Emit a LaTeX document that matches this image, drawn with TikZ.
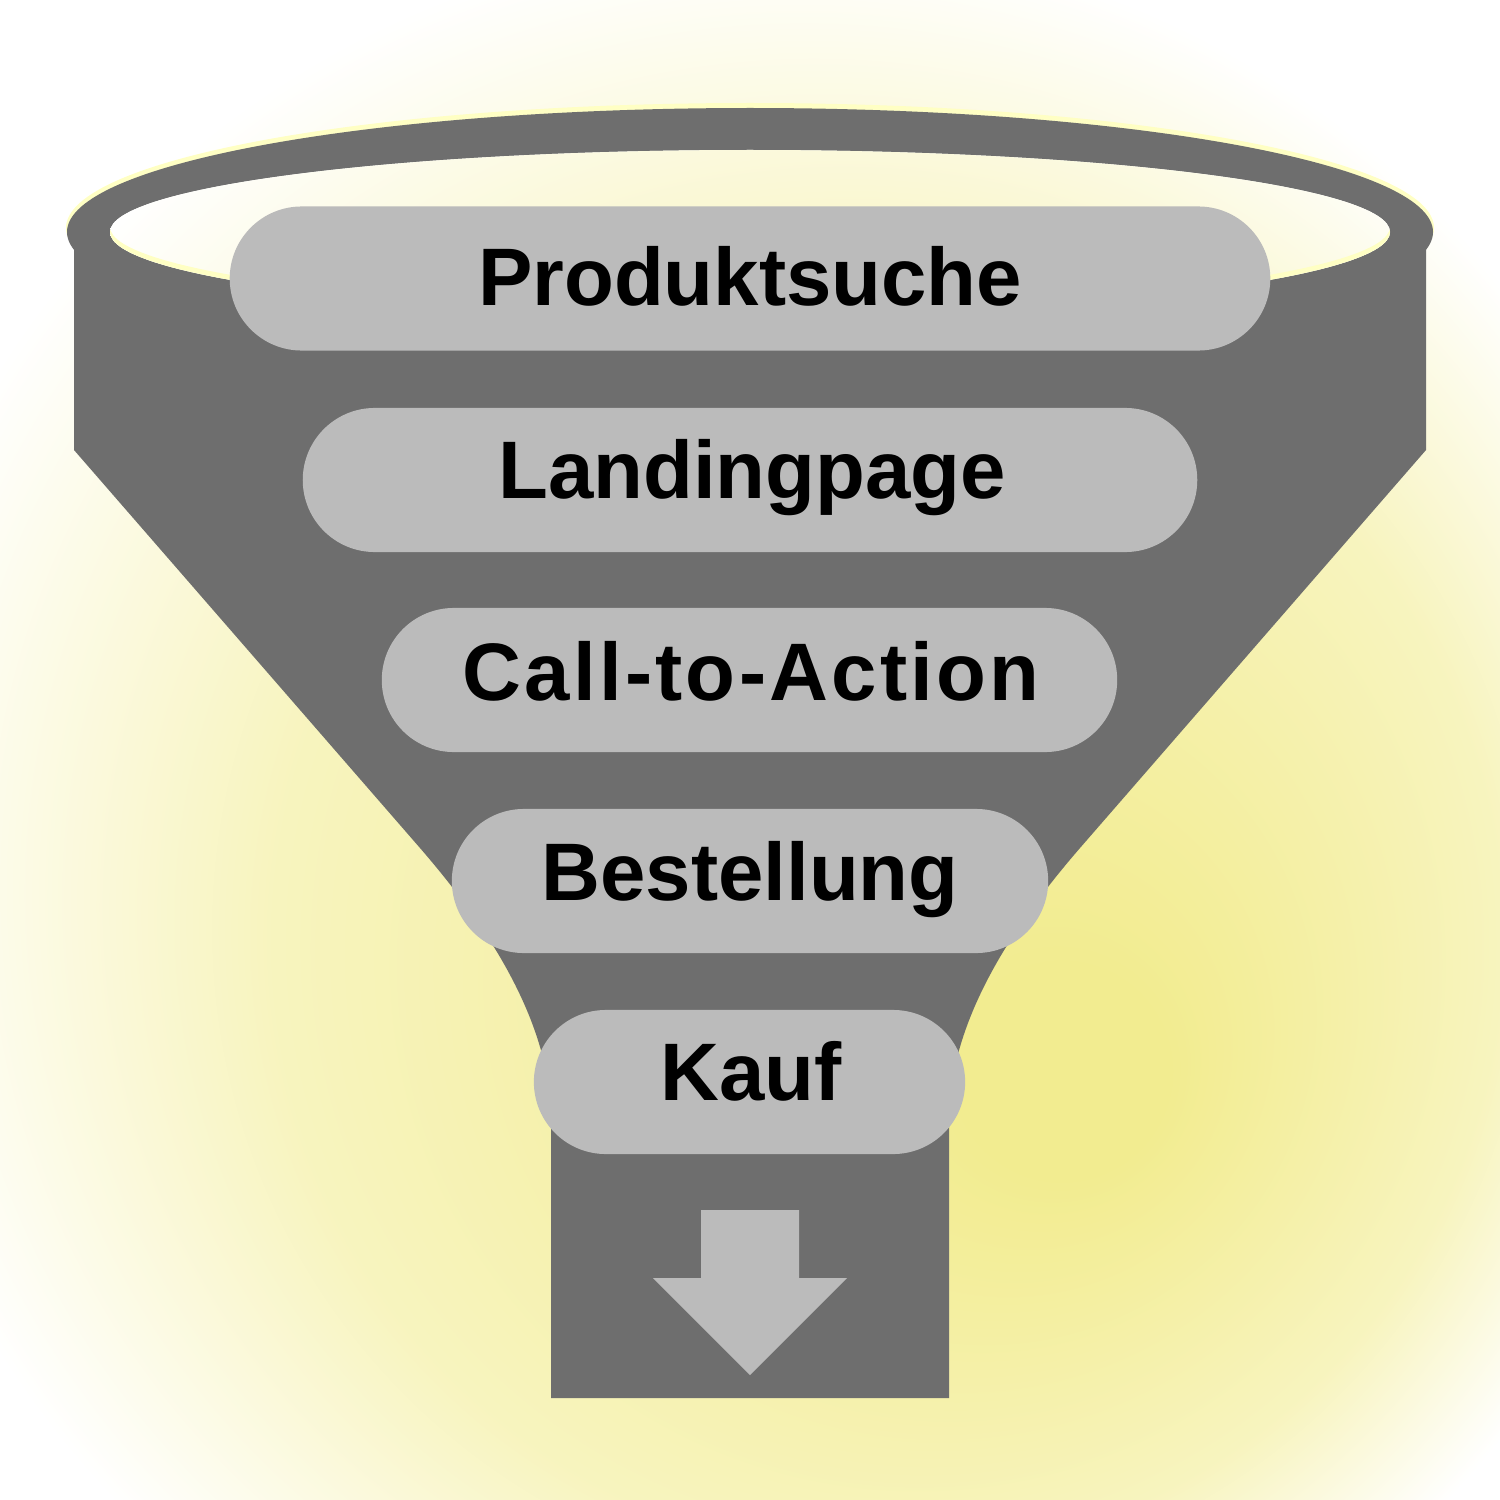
\documentclass[tikz,border=0pt]{standalone}
\usepackage{fontspec}
\setmainfont{Liberation Sans}
\definecolor{bgyel}{HTML}{F2EC90}
\definecolor{rimyel}{HTML}{FFFFC4}
\definecolor{funnelgray}{HTML}{6E6E6E}
\definecolor{pillgray}{HTML}{BBBBBB}
\colorlet{bgmid}{bgyel!58!white}
% focal radial gradient: outer circle centred at origin, focus offset towards lower right
\pgfdeclareradialshading{bgshade}{\pgfpoint{90.7bp}{-68.0bp}}{color(0bp)=(bgyel); color(30bp)=(bgyel); color(175bp)=(bgmid); color(262bp)=(white)}
\tikzset{
  pill/.style={shape=rectangle, fill=pillgray, draw=none, inner sep=0pt,
    minimum height=1.44cm, rounded corners=0.72cm},
  lbl/.style={anchor=base, inner sep=0pt, text=black,
    font=\bfseries\fontsize{23.2}{28}\selectfont}
}
\newcommand{\bgpaint}{%
  \fill[white] (0,0) rectangle (1500,1500);
  \begin{scope}[shift={(780,860)}]
    \pgftext{\pgfuseshading{bgshade}}
  \end{scope}}
\begin{document}
\begin{tikzpicture}[x=0.01cm,y=-0.01cm]
\useasboundingbox (0,0) rectangle (1500,1500);
% background
\begin{scope}
  \clip (0,0) rectangle (1500,1500);
  \bgpaint
\end{scope}
% rim highlight and rim
\fill[rimyel] (750,228) ellipse [x radius=684, y radius=125];
\fill[funnelgray] (750,232) ellipse [x radius=683, y radius=124];
% funnel body
\fill[funnelgray] (74,232) -- (74,450) -- (420,848)
  .. controls (498,938) and (551,1030) .. (551,1120) -- (551,1398)
  -- (949,1398) -- (949,1120)
  .. controls (949,1030) and (1002,938) .. (1080,848)
  -- (1426,450) -- (1426,232) -- cycle;
% hole
\begin{scope}
  \clip (750,232) ellipse [x radius=640, y radius=82];
  \bgpaint
  \fill[rimyel, even odd rule] (0,0) rectangle (1500,1500)
    (750,227) ellipse [x radius=640, y radius=82];
\end{scope}
% pills
\node[pill, minimum width=10.40cm] (p1) at (750,278.5) {};
\node[pill, minimum width=8.94cm] (p2) at (750,480) {};
\node[pill, minimum width=7.35cm] (p3) at (749.5,680) {};
\node[pill, minimum width=5.96cm] (p4) at (750,881) {};
\node[pill, minimum width=4.31cm] (p5) at (749.5,1082) {};
\node[lbl] (t1) at (750,305.5) {Produktsuche};
\node[lbl] (t2) at (752,498) {Landingpage};
\node[lbl] (t3) at (751,700) {\addfontfeature{LetterSpace=4}Call-to-Action};
\node[lbl] (t4) at (750,900) {Bestellung};
\node[lbl] (t5) at (751,1100) {Kauf};
% arrow
\fill[pillgray] (701,1210) -- (799,1210) -- (799,1278) -- (847,1278)
  -- (750,1375) -- (653,1278) -- (701,1278) -- cycle;
\end{tikzpicture}
\end{document}
